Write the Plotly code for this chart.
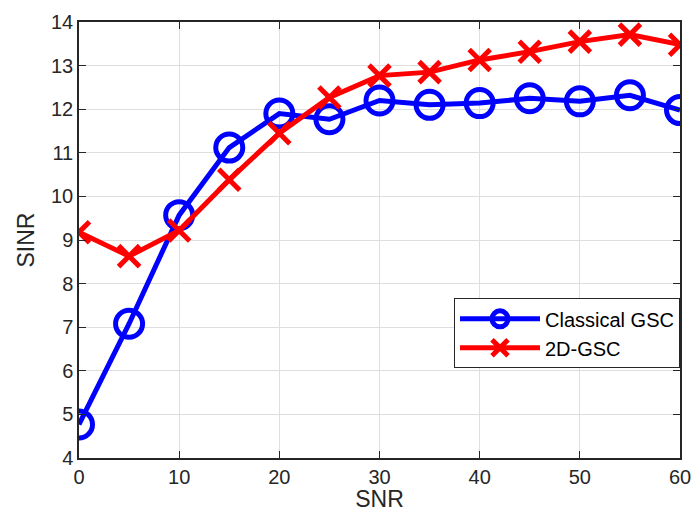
import plotly.graph_objects as go

# SNR sweep (dB)
snr = [0, 5, 10, 15, 20, 25, 30, 35, 40, 45, 50, 55, 60]

# Output SINR for each beamformer
sinr_classical = [4.77, 7.08, 9.57, 11.12, 11.90, 11.77, 12.20, 12.10, 12.14, 12.25, 12.18, 12.32, 11.98]
sinr_2d = [9.18, 8.63, 9.22, 10.38, 11.45, 12.27, 12.77, 12.85, 13.13, 13.32, 13.55, 13.71, 13.48]

x_ticks = [0, 10, 20, 30, 40, 50, 60]
y_ticks = [4, 5, 6, 7, 8, 9, 10, 11, 12, 13, 14]

FONT = "Liberation Sans, Arial, Helvetica, sans-serif"
AXIS_COLOR = "#262626"
GRID_COLOR = "#dedede"

fig = go.Figure()

fig.add_trace(go.Scatter(
    x=snr, y=sinr_classical, name="Classical GSC",
    mode="lines+markers",
    line=dict(color="#0000ff", width=5),
    marker=dict(symbol="circle-open", size=27, color="#0000ff",
                line=dict(color="#0000ff", width=5)),
))

fig.add_trace(go.Scatter(
    x=snr, y=sinr_2d, name="2D-GSC",
    mode="lines+markers",
    line=dict(color="#ff0000", width=5),
    marker=dict(symbol="x-thin", size=21, color="#ff0000",
                line=dict(color="#ff0000", width=5)),
))

axis_common = dict(
    showgrid=True, gridcolor=GRID_COLOR, gridwidth=1,
    showline=True, linecolor=AXIS_COLOR, linewidth=1.5, mirror="ticks",
    ticks="inside", ticklen=7, tickwidth=1, tickcolor=AXIS_COLOR,
    tickfont=dict(family=FONT, size=20, color=AXIS_COLOR),
    zeroline=False, automargin=False,
)

fig.update_xaxes(
    range=[0, 60], tickvals=x_ticks, ticktext=[str(v) for v in x_ticks],
    title=dict(text="SNR", font=dict(family=FONT, size=23, color=AXIS_COLOR), standoff=0),
    **axis_common,
)
fig.update_yaxes(
    range=[4, 14], tickvals=y_ticks, ticktext=[str(v) for v in y_ticks],
    title=dict(text="SINR", font=dict(family=FONT, size=23, color=AXIS_COLOR), standoff=10),
    **axis_common,
)

fig.update_layout(
    width=700, height=512,
    margin=dict(l=79, r=20, t=22, b=54),
    paper_bgcolor="white", plot_bgcolor="white",
    showlegend=True,
    legend=dict(
        x=1.0, xanchor="right", y=0.286, yanchor="middle",
        bgcolor="white", bordercolor="#262626", borderwidth=1,
        font=dict(family=FONT, size=20, color="black"),
        itemwidth=80, tracegroupgap=0,
    ),
)

fig.write_html("out.html")
